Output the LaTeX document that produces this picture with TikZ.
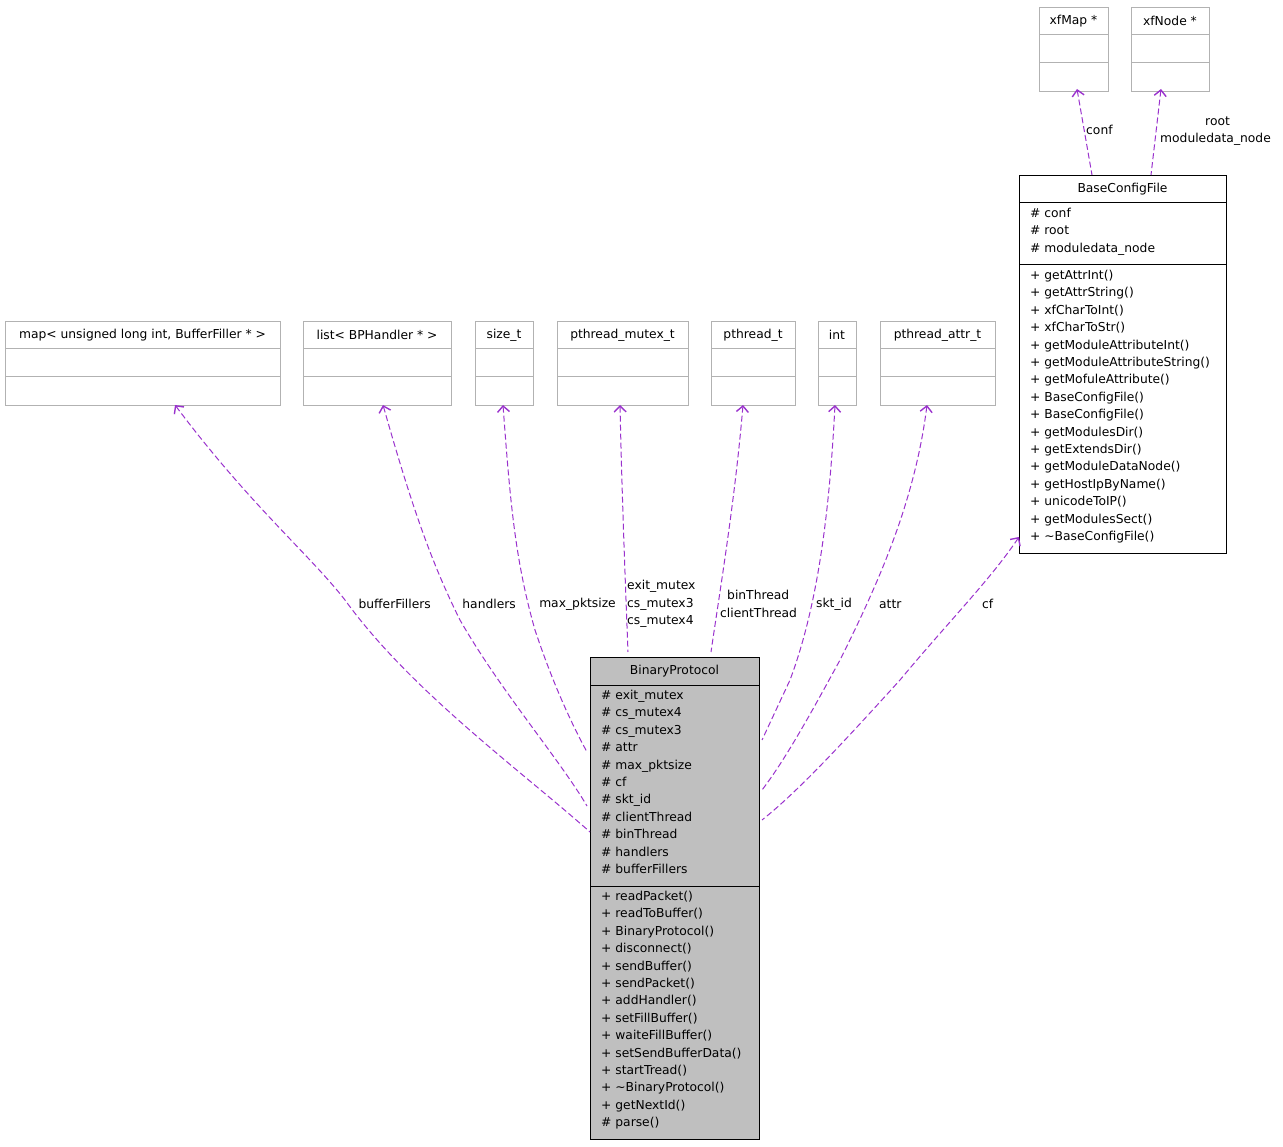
\documentclass[tikz,border=0pt]{standalone}
\usepackage{fontspec}
\setmainfont{DejaVu Sans}
\usetikzlibrary{arrows.meta}
\definecolor{dep}{HTML}{9A32CD}
\begin{document}
\begin{tikzpicture}[x=1pt,y=-1pt,
  box/.style={draw,anchor=north west,inner sep=0,line width=1pt},
  gbox/.style={box,draw=black!30},
  txt/.style={anchor=north west,inner sep=0,align=left,font=\fontsize{12.3}{17.4}\selectfont},
  ttl/.style={inner sep=0,font=\fontsize{12.3}{14}\selectfont},
  lbl/.style={inner sep=0,align=left,font=\fontsize{12.3}{17.4}\selectfont},
  dep/.style={draw=dep,dash pattern=on 6pt off 3pt,line width=1pt,{Straight Barb[length=6pt,width=12pt,line width=1.4pt]}-}]
\useasboundingbox (0,0) rectangle (1283,1147);
\newcommand{\gbx}[4]{% name, x, width, y
  \node[gbox,minimum width=#3,minimum height=84] (#1) at (#2,#4) {};
  \draw[black!30,line width=1pt] (#2,#4+28) -- ++(#3,0) (#2,#4+56) -- ++(#3,0);}
\gbx{xfmap}{1039}{69}{7}
\gbx{xfnode}{1131}{78}{7}
\gbx{map}{5}{275}{321}
\gbx{list}{303}{148}{321}
\gbx{sizet}{475}{58}{321}
\gbx{mutex}{557}{131}{321}
\gbx{pth}{711}{84}{321}
\gbx{int}{818}{38}{321}
\gbx{pattr}{880}{115}{321}
\node[ttl] at (1073.5,21) {xfMap *};
\node[ttl] at (1170,21) {xfNode *};
\node[ttl] at (142.5,335) {map< unsigned long int, BufferFiller * >};
\node[ttl] at (377,335) {list< BPHandler * >};
\node[ttl] at (504,335) {size\_t};
\node[ttl] at (622.5,335) {pthread\_mutex\_t};
\node[ttl] at (753,335) {pthread\_t};
\node[ttl] at (837,335) {int};
\node[ttl] at (937.5,335) {pthread\_attr\_t};
% BaseConfigFile
\node[box,minimum width=207,minimum height=378] (bcf) at (1019,175) {};
\draw[line width=1pt] (1019,203) -- ++(207,0) (1019,265) -- ++(207,0);
\node[ttl] at (1122.5,189) {BaseConfigFile};
\node[txt] at (1030,208) {\# conf\\\# root\\\# moduledata\_node};
\node[txt] at (1030,270) {+ getAttrInt()\\+ getAttrString()\\+ xfCharToInt()\\+ xfCharToStr()\\+ getModuleAttributeInt()\\+ getModuleAttributeString()\\+ getMofuleAttribute()\\+ BaseConfigFile()\\+ BaseConfigFile()\\+ getModulesDir()\\+ getExtendsDir()\\+ getModuleDataNode()\\+ getHostIpByName()\\+ unicodeToIP()\\+ getModulesSect()\\+ \textasciitilde BaseConfigFile()};
% BinaryProtocol
\node[box,fill=black!25,minimum width=169,minimum height=482] (bp) at (590,657) {};
\draw[line width=1pt] (590,685) -- ++(169,0) (590,886) -- ++(169,0);
\node[ttl] at (674.5,671) {BinaryProtocol};
\node[txt] at (601,690) {\# exit\_mutex\\\# cs\_mutex4\\\# cs\_mutex3\\\# attr\\\# max\_pktsize\\\# cf\\\# skt\_id\\\# clientThread\\\# binThread\\\# handlers\\\# bufferFillers};
\node[txt] at (601,891) {+ readPacket()\\+ readToBuffer()\\+ BinaryProtocol()\\+ disconnect()\\+ sendBuffer()\\+ sendPacket()\\+ addHandler()\\+ setFillBuffer()\\+ waiteFillBuffer()\\+ setSendBufferData()\\+ startTread()\\+ \textasciitilde BinaryProtocol()\\+ getNextId()\\\# parse()};
% edges
\coordinate (e1) at (590,832); \coordinate (e2) at (587,806);
\coordinate (e3) at (587,752); \coordinate (e4) at (628,652);
\coordinate (e5) at (711,652); \coordinate (e6) at (762,740);
\coordinate (e7) at (762,790); \coordinate (e8) at (762,820);
\coordinate (c1) at (1092,175); \coordinate (c2) at (1151,175);
\draw[dep] (175,405) .. controls (250,505) and (310,555) .. (345,600) .. controls (410,690) and (520,770) .. (e1);
\draw[dep] (383,405) .. controls (410,500) and (430,560) .. (460,620) .. controls (500,690) and (560,760) .. (e2);
\draw[dep] (503,405) .. controls (510,500) and (515,560) .. (535,630) .. controls (555,690) and (575,730) .. (e3);
\draw[dep] (620,405) .. controls (622,500) and (626,600) .. (e4);
\draw[dep] (743,405) .. controls (735,500) and (720,590) .. (e5);
\draw[dep] (835,405) .. controls (830,500) and (820,600) .. (790,680) -- (e6);
\draw[dep] (927,405) .. controls (915,500) and (880,580) .. (840,660) .. controls (810,715) and (785,760) .. (e7);
\draw[dep] (1019,537) .. controls (990,580) and (950,620) .. (900,680) .. controls (850,735) and (800,790) .. (e8);
\draw[dep] (1077,89) -- (c1);
\draw[dep] (1161,89) -- (c2);
% labels
\node[lbl,anchor=east] (l1) at (431,604) {bufferFillers};
\node[lbl,anchor=east] (l2) at (516,604) {handlers};
\node[lbl,anchor=east] (l3) at (616,604) {max\_pktsize};
\node[lbl,anchor=west] (l4) at (627,604) {exit\_mutex\\cs\_mutex3\\cs\_mutex4};
\node[lbl,anchor=west] (l5) at (720,604) {\hspace*{7pt}binThread\\clientThread};
\node[lbl,anchor=west] (l6) at (816,604) {skt\_id};
\node[lbl,anchor=west] (l7) at (879,604) {attr};
\node[lbl,anchor=west] (l8) at (982,604) {cf};
\node[lbl,anchor=west] (l9) at (1086,130) {conf};
\node[lbl,anchor=west] (l10) at (1160,131) {\hspace*{45pt}root\\moduledata\_node};
\end{tikzpicture}
\end{document}
